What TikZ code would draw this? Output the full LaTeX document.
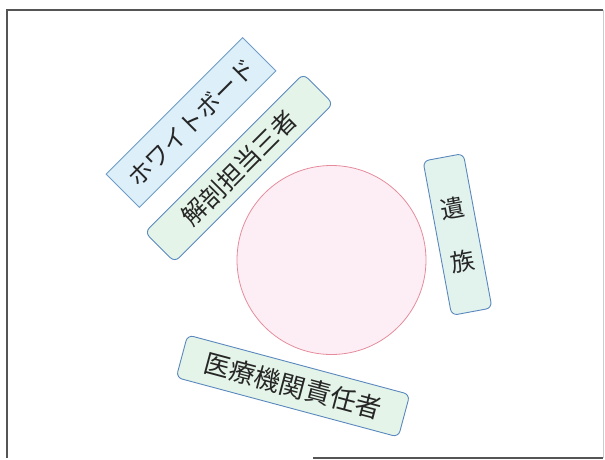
\documentclass[tikz,border=0pt]{standalone}
\usepackage{fontspec}
\newfontfamily\jp{Noto Sans CJK JP}
\definecolor{wbfill}{HTML}{DDF0FA}
\definecolor{wbline}{HTML}{6E9CC6}
\definecolor{grfill}{HTML}{E4F4E8}
\definecolor{bxline}{HTML}{5A88BE}
\definecolor{ysfill}{HTML}{E2F3EE}
\definecolor{cfill}{HTML}{FDEEF5}
\definecolor{cline}{HTML}{E58C9C}
\definecolor{frame}{HTML}{555555}
\begin{document}
\begin{tikzpicture}[x=1pt,y=-1pt,
  lbl/.style={inner sep=0pt, line width=0.9pt, draw=bxline, font=\jp, text=black!85},
  wb/.style={lbl, draw=wbline, fill=wbfill},
  gbox/.style={lbl, fill=grfill, rounded corners=6pt}]
\useasboundingbox (0,0) rectangle (605,460);
\draw[frame, line width=1.2pt] (7,458) -- (7,10) -- (603,10);
\draw[frame, line width=1.2pt] (313,458) -- (603,458);
\draw[frame!30, line width=0.6pt] (603,10) -- (603,458);
\node[wb, minimum width=193pt, minimum height=47pt, rotate=45, font=\jp\fontsize{24}{26}\selectfont] (wb) at (191,122.5) {ホワイトボード};
\node[gbox, minimum width=224pt, minimum height=42pt, rotate=45, font=\jp\fontsize{25}{27}\selectfont] (kb) at (239,168) {解剖担当三者};
\node[circle, draw=cline, fill=cfill, line width=0.8pt, minimum size=189pt, inner sep=0pt] (c) at (331.5,260) {};
\node[gbox, fill=ysfill, minimum width=41pt, minimum height=157pt, rotate=10.5, align=center, font=\jp\fontsize{24}{25}\selectfont] (iz) at (457.5,234.5) {遺\\[29pt]族};
\node[gbox, minimum width=230pt, minimum height=44pt, rotate=-15, font=\jp\fontsize{26}{28}\selectfont] (ir) at (293,386) {医療機関責任者};
\end{tikzpicture}
\end{document}
